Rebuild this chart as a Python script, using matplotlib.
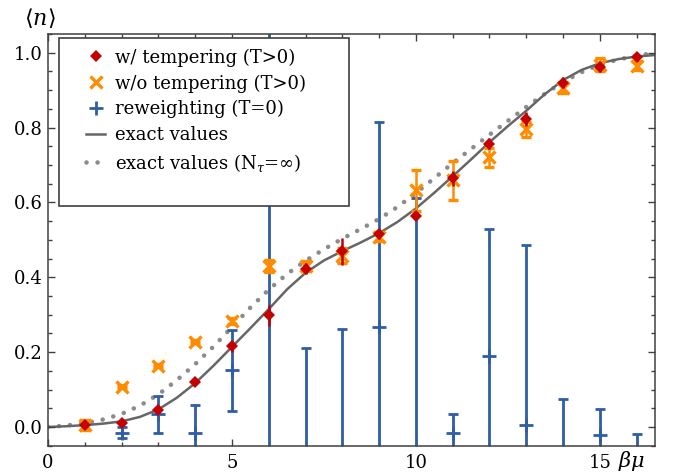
import matplotlib
matplotlib.use("Agg")
import matplotlib.pyplot as plt
from matplotlib.lines import Line2D
from matplotlib.patches import Rectangle
from matplotlib.ticker import MultipleLocator

# data
mu = [1, 2, 3, 4, 5, 6, 7, 8, 9, 10, 11, 12, 13, 14, 15, 16]
n_temp = [0.004, 0.011, 0.046, 0.120, 0.216, 0.298, 0.423, 0.469, 0.515, 0.565, 0.665, 0.757, 0.823, 0.920, 0.962, 0.989]
n_temp_err = [0.006, 0.006, 0.008, 0.008, 0.015, 0.027, 0.015, 0.035, 0.012, 0.010, 0.020, 0.014, 0.018, 0.015, 0.013, 0.010]

n_wo = [0.005, 0.108, 0.164, 0.228, 0.282, 0.430, 0.431, 0.458, 0.508, 0.632, 0.659, 0.721, 0.795, 0.907, 0.968, 0.965]
n_wo_err = [0.013, 0.004, 0.004, 0.004, 0.008, 0.015, 0.013, 0.020, 0.012, 0.055, 0.052, 0.025, 0.020, 0.015, 0.018, 0.012]

mu_rw = [2, 3, 4, 5, 6, 7, 8, 9, 10, 11, 12, 13, 14, 15, 16]
n_rw = [-0.015, 0.034, -0.015, 0.151, 0.80, -0.20, -0.30, 0.267, -0.20, -0.016, 0.189, 0.005, -0.10, -0.021, -0.08]
n_rw_err = [0.015, 0.050, 0.074, 0.109, 1.00, 0.41, 0.562, 0.547, 0.812, 0.050, 0.34, 0.48, 0.174, 0.069, 0.062]

mu_curve = [0, 0.5, 1, 1.5, 2, 2.5, 3, 3.5, 4, 4.5, 5, 5.5, 6, 6.5, 7, 7.5, 8, 8.5,
            9, 9.5, 10, 10.5, 11, 11.5, 12, 12.5, 13, 13.5, 14, 14.5, 15, 15.5, 16, 16.5]
n_exact = [0.0, 0.002, 0.005, 0.009, 0.015, 0.027, 0.047, 0.078, 0.117, 0.164, 0.214, 0.264,
           0.315, 0.368, 0.412, 0.445, 0.470, 0.493, 0.518, 0.548, 0.584, 0.626, 0.670, 0.715,
           0.761, 0.804, 0.845, 0.889, 0.927, 0.954, 0.972, 0.983, 0.990, 0.994]
n_inf = [0.0, 0.004, 0.010, 0.020, 0.035, 0.057, 0.087, 0.125, 0.168, 0.215, 0.267, 0.319,
         0.367, 0.409, 0.444, 0.475, 0.503, 0.529, 0.556, 0.588, 0.625, 0.665, 0.705, 0.743,
         0.781, 0.818, 0.855, 0.890, 0.922, 0.948, 0.968, 0.982, 0.992, 1.0]

red = "#c40000"
orange = "#ff8c00"
blue = "#2f5da6"
dot_color = "#8c8c8c"
dot_style = (0, (0.01, 2.4))

plt.rcParams['font.family'] = ['DejaVu Serif']
plt.rcParams['mathtext.fontset'] = 'dejavuserif'
plt.rcParams['font.size'] = 13

fig = plt.figure(figsize=(6.76, 4.73), dpi=100)
ax = fig.add_axes([0.071, 0.0577, 0.898, 0.8703])

# exact curves
ax.plot(mu_curve, n_inf, color=dot_color, lw=3.3, ls=dot_style, dash_capstyle='round', zorder=1)
ax.plot(mu_curve, n_exact, color="#666666", lw=1.8, zorder=1.5)

# reweighting
ax.errorbar(mu_rw, n_rw, yerr=n_rw_err, fmt='+', color=blue, ms=10, mew=2,
            elinewidth=2, capsize=3.5, capthick=2, zorder=2)
# without tempering
ax.errorbar(mu, n_wo, yerr=n_wo_err, fmt='x', color=orange, ms=8.5, mew=2.4,
            elinewidth=1.8, capsize=3.5, capthick=1.8, zorder=3)
# with tempering
ax.errorbar(mu, n_temp, yerr=n_temp_err, fmt='D', color=red, ms=6.2, mew=0,
            ecolor=red, elinewidth=1.8, capsize=3.5, capthick=1.8, zorder=4)

ax.set_xlim(0, 16.5)
ax.set_ylim(-0.05, 1.05)
ax.xaxis.set_major_locator(MultipleLocator(5))
ax.xaxis.set_minor_locator(MultipleLocator(1))
ax.yaxis.set_major_locator(MultipleLocator(0.2))
ax.yaxis.set_minor_locator(MultipleLocator(0.05))
ax.yaxis.set_major_formatter(plt.FormatStrFormatter('%.1f'))
ax.tick_params(which='both', direction='in', top=True, right=True, color='0.25')
ax.tick_params(which='major', length=5, width=1)
ax.tick_params(which='minor', length=3, width=1)
ax.tick_params(axis='x', pad=6)
ax.tick_params(axis='y', pad=4)
for s in ax.spines.values():
    s.set_color('0.25')
    s.set_linewidth(1.1)

ax.annotate(r'$\langle n\rangle$', xy=(-0.013, 1.039), xycoords='axes fraction',
            ha='center', va='center', fontsize=16)
ax.annotate(r'$\beta\mu$', xy=(0.962, -0.036), xycoords='axes fraction',
            ha='center', va='center', fontsize=15)

# legend frame
ax.add_patch(Rectangle((0.018, 0.582), 0.478, 0.408, transform=ax.transAxes,
                       facecolor='white', edgecolor='0.25', lw=1.2, zorder=5))
handles = [
    Line2D([], [], ls='none', marker='D', color=red, ms=6.2, mew=0),
    Line2D([], [], ls='none', marker='x', color=orange, ms=8, mew=2.4),
    Line2D([], [], ls='none', marker='+', color=blue, ms=10, mew=2),
    Line2D([], [], color="#666666", lw=1.8),
    Line2D([], [], color=dot_color, lw=3.3, ls=dot_style, dash_capstyle='round'),
]
labels = ["w/ tempering (T>0)", "w/o tempering (T>0)", "reweighting (T=0)",
          "exact values", r"exact values (N$_\tau$=$\infty$)"]
leg = ax.legend(handles, labels, loc='upper left', bbox_to_anchor=(0.062, 0.965),
                frameon=False, borderpad=0, borderaxespad=0, handlelength=1.1,
                handletextpad=0.5, labelspacing=0.42, fontsize=13)
leg.set_zorder(6)

fig.savefig("out.png", dpi=100)
